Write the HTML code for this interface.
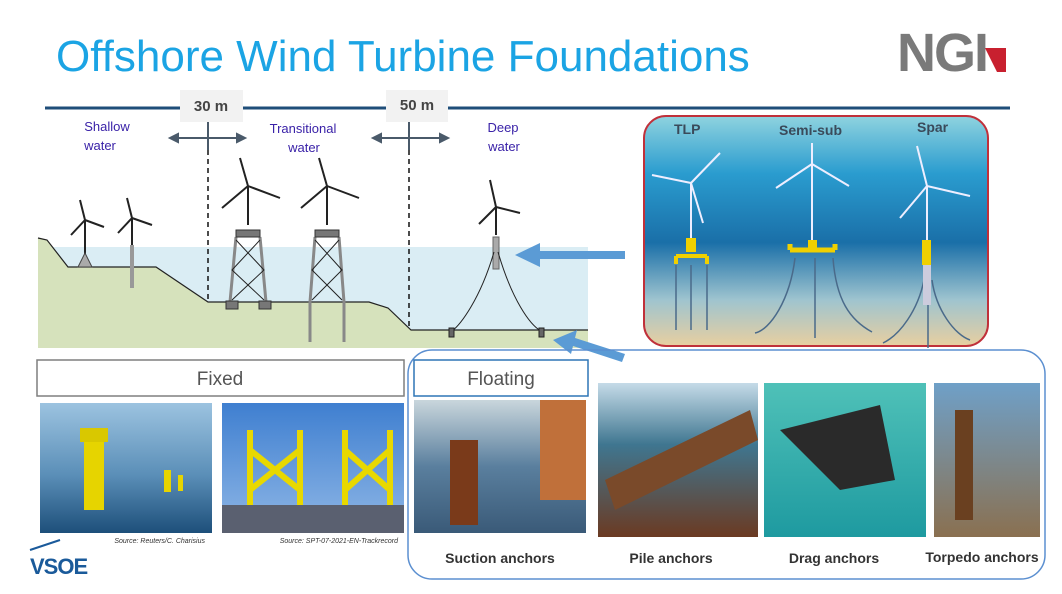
<!DOCTYPE html>
<html><head><meta charset="utf-8"><style>
body{margin:0;width:1062px;height:594px;overflow:hidden;background:#fff;font-family:"Liberation Sans",sans-serif}
svg{position:absolute;left:0;top:0}
</style></head><body>
<svg width="1062" height="594" viewBox="0 0 1062 594" xmlns="http://www.w3.org/2000/svg" font-family="Liberation Sans, sans-serif">
<defs>
<linearGradient id="sea" x1="0" y1="0" x2="0" y2="1">
<stop offset="0" stop-color="#8fd3df"/><stop offset="0.25" stop-color="#2a9ccf"/><stop offset="0.55" stop-color="#1a6fa8"/><stop offset="0.8" stop-color="#9fc4cf"/><stop offset="1" stop-color="#e8cfa0"/></linearGradient>
<linearGradient id="p1" x1="0" y1="0" x2="0" y2="1"><stop offset="0" stop-color="#9cc3e0"/><stop offset="0.55" stop-color="#5b8fb8"/><stop offset="1" stop-color="#1d4f7a"/></linearGradient>
<linearGradient id="p2" x1="0" y1="0" x2="0" y2="1"><stop offset="0" stop-color="#3f7fd0"/><stop offset="1" stop-color="#8fb7e6"/></linearGradient>
<linearGradient id="p3" x1="0" y1="0" x2="0" y2="1"><stop offset="0" stop-color="#c9d6dc"/><stop offset="0.5" stop-color="#5a7f9e"/><stop offset="1" stop-color="#3a5a78"/></linearGradient>
<linearGradient id="p4" x1="0" y1="0" x2="0" y2="1"><stop offset="0" stop-color="#c5dbe8"/><stop offset="0.4" stop-color="#3f7690"/><stop offset="1" stop-color="#6b3a22"/></linearGradient>
<linearGradient id="p5" x1="0" y1="0" x2="0" y2="1"><stop offset="0" stop-color="#4fc1b8"/><stop offset="1" stop-color="#1e9aa0"/></linearGradient>
<linearGradient id="p6" x1="0" y1="0" x2="0" y2="1"><stop offset="0" stop-color="#6fa0c8"/><stop offset="1" stop-color="#8a7050"/></linearGradient>
</defs>

<text x="56" y="71" font-size="44" fill="#1ba4e4">Offshore Wind Turbine Foundations</text>
<text x="897" y="71" font-size="54" font-weight="bold" fill="#7a7a7a" letter-spacing="-2">NGI</text>
<polygon points="985,48 1006,48 1006,72 997,72" fill="#c8202f"/>

<line x1="45" y1="108" x2="1010" y2="108" stroke="#1f4e79" stroke-width="3"/>
<rect x="180" y="90" width="63" height="32" fill="#f2f2f2"/>
<text x="211" y="111" font-size="15" font-weight="bold" fill="#444" text-anchor="middle">30 m</text>
<rect x="386" y="90" width="62" height="32" fill="#f2f2f2"/>
<text x="417" y="110" font-size="15" font-weight="bold" fill="#444" text-anchor="middle">50 m</text>

<rect x="50" y="247" width="538" height="90" fill="#daedf4"/>
<path d="M38,238 L47,240 L68,267 L156,267 L208,302 L369,302 L388,308 L411,330 L588,330 L588,348 L38,348 Z" fill="#d6e2bc"/>
<path d="M38,238 L47,240 L68,267 L156,267 L208,302 L369,302 L388,308 L411,330 L588,330" fill="none" stroke="#222" stroke-width="1.2"/>
<g stroke="#4a5a6a" stroke-width="2" fill="#4a5a6a">
<line x1="172" y1="138" x2="243" y2="138"/><polygon points="170,138 178,134 178,142"/><polygon points="245,138 237,134 237,142"/>
<line x1="375" y1="138" x2="446" y2="138"/><polygon points="373,138 381,134 381,142"/><polygon points="448,138 440,134 440,142"/>
<line x1="208" y1="122" x2="208" y2="150"/><line x1="409" y1="122" x2="409" y2="150"/>
</g>
<line x1="208" y1="150" x2="208" y2="302" stroke="#111" stroke-width="1.5" stroke-dasharray="5,4"/>
<line x1="409" y1="150" x2="409" y2="330" stroke="#111" stroke-width="1.5" stroke-dasharray="5,4"/>
<g font-size="13" fill="#3a22a8" text-anchor="middle">
<text x="107" y="131">Shallow</text><text x="100" y="150">water</text>
<text x="303" y="133">Transitional</text><text x="304" y="152">water</text>
<text x="503" y="132">Deep</text><text x="504" y="151">water</text>
</g>
<g stroke="#222" stroke-width="2" fill="none">
<line x1="85" y1="220" x2="85" y2="257"/><path d="M85,220 L80,200 M85,220 L104,227 M85,220 L71,235"/>
<line x1="132" y1="218" x2="132" y2="245"/><path d="M132,218 L127,198 M132,218 L152,225 M132,218 L118,233"/>
<line x1="248" y1="186" x2="248" y2="225"/><path d="M248,186 L240,158 M248,186 L280,198 M248,186 L222,208"/>
<line x1="327" y1="186" x2="327" y2="225"/><path d="M327,186 L319,158 M327,186 L359,198 M327,186 L301,208"/>
<line x1="496" y1="207" x2="496" y2="235"/><path d="M496,207 L490,180 M496,207 L520,213 M496,207 L479,224"/>
</g>
<polygon points="78,267 85,253 92,267" fill="#aaa" stroke="#444"/>
<line x1="132" y1="245" x2="132" y2="288" stroke="#999" stroke-width="4"/>
<g stroke="#888" stroke-width="3" fill="none">
<path d="M236,237 L230,302 M260,237 L266,302"/>
<path d="M315,237 L310,302 L310,342 M339,237 L344,302 L344,342"/>
</g>
<g stroke="#222" stroke-width="1" fill="none">
<path d="M236,240 L264,270 L232,300 M260,240 L232,270 L264,300"/>
<path d="M315,240 L342,270 L312,300 M339,240 L312,270 L342,300"/>
</g>
<rect x="236" y="230" width="24" height="7" fill="#777" stroke="#333"/>
<rect x="315" y="230" width="24" height="7" fill="#777" stroke="#333"/>
<rect x="226" y="301" width="12" height="8" fill="#777" stroke="#333"/>
<rect x="259" y="301" width="12" height="8" fill="#777" stroke="#333"/>
<rect x="493" y="237" width="6" height="32" fill="#aaa" stroke="#666"/>
<path d="M494,252 C480,300 460,325 452,331 M498,252 C512,300 530,325 541,331" stroke="#222" fill="none"/>
<rect x="449" y="328" width="5" height="9" fill="#666" stroke="#222"/>
<rect x="539" y="328" width="5" height="9" fill="#666" stroke="#222"/>

<rect x="644" y="116" width="344" height="230" rx="22" fill="url(#sea)" stroke="#c0303a" stroke-width="2"/>
<g font-size="14" font-weight="bold" fill="#3a4a5a">
<text x="674" y="134">TLP</text><text x="779" y="135">Semi-sub</text><text x="917" y="132">Spar</text>
</g>
<g stroke="#eef" stroke-width="2" fill="none">
<line x1="691" y1="183" x2="691" y2="240"/><path d="M691,183 L720,153 M691,183 L652,175 M691,183 L703,223"/>
<line x1="812" y1="164" x2="812" y2="240"/><path d="M812,164 L812,143 M812,164 L776,188 M812,164 L849,186"/>
<line x1="927" y1="186" x2="927" y2="260"/><path d="M927,186 L917,146 M927,186 L970,196 M927,186 L900,218"/>
</g>
<g stroke="#4a6a8a" stroke-width="1.5" fill="none">
<path d="M676,265 V330 M691,265 V330 M707,265 V330"/>
<path d="M795,258 C790,300 770,330 755,333 M815,258 V338 M833,258 C836,300 850,320 872,332"/>
<path d="M924,280 C918,310 900,335 883,343 M932,280 C936,310 955,335 970,340 M928,300 V348"/>
</g>
<rect x="686" y="238" width="10" height="14" fill="#f0d000"/>
<path d="M676,256 H707 M676,256 v8 M707,256 v8" stroke="#f0d000" stroke-width="4" fill="none"/>
<path d="M790,250 H835 M790,250 v-6 M835,250 v-6" stroke="#f0d000" stroke-width="5" fill="none"/>
<rect x="808" y="240" width="9" height="12" fill="#f0d000"/>
<rect x="922" y="240" width="9" height="25" fill="#f0d000"/>
<rect x="923" y="265" width="8" height="40" fill="#ccd"/>

<g fill="#5b9bd5">
<rect x="535" y="251" width="90" height="8"/><polygon points="515,255 540,243 540,267"/>
<polygon points="625,354 622,362 570,345 572,337" /><polygon points="553,340 577,330 571,354"/>
</g>

<rect x="408" y="350" width="637" height="229" rx="24" fill="none" stroke="#5b8fd0" stroke-width="1.5"/>
<rect x="37" y="360" width="367" height="36" fill="#fff" stroke="#7f7f7f" stroke-width="1.5"/>
<text x="220" y="385" font-size="19" fill="#555" text-anchor="middle">Fixed</text>
<rect x="414" y="360" width="174" height="36" fill="#fff" stroke="#2e75b6" stroke-width="1.5"/>
<text x="501" y="385" font-size="19" fill="#555" text-anchor="middle">Floating</text>

<rect x="40" y="403" width="172" height="130" fill="url(#p1)"/>
<rect x="84" y="440" width="20" height="70" fill="#e6d400"/><rect x="80" y="428" width="28" height="14" fill="#d9c800"/>
<rect x="164" y="470" width="7" height="22" fill="#e6d400"/><rect x="178" y="475" width="5" height="16" fill="#e6d400"/>
<text x="205" y="543" font-size="7" font-style="italic" fill="#333" text-anchor="end">Source: Reuters/C. Charisius</text>
<rect x="222" y="403" width="182" height="130" fill="url(#p2)"/>
<g stroke="#e8d800" stroke-width="6" fill="none">
<path d="M250,430 V510 M300,430 V510 M345,430 V510 M390,430 V510 M250,450 L300,490 M300,450 L250,490 M345,450 L390,490 M390,450 L345,490"/>
</g>
<rect x="222" y="505" width="182" height="28" fill="#5a6070"/>
<text x="398" y="543" font-size="7" font-style="italic" fill="#333" text-anchor="end">Source: SPT-07-2021-EN-Trackrecord</text>
<rect x="414" y="400" width="172" height="133" fill="url(#p3)"/>
<rect x="450" y="440" width="28" height="85" fill="#7a3a1a"/><rect x="540" y="400" width="46" height="100" fill="#c0703a"/>
<rect x="598" y="383" width="160" height="154" fill="url(#p4)"/>
<path d="M605,480 L750,410 L758,440 L615,510 Z" fill="#7a4a2a"/>
<rect x="764" y="383" width="162" height="154" fill="url(#p5)"/>
<path d="M780,430 L880,405 L895,480 L840,490 Z" fill="#2a2a2a"/>
<rect x="934" y="383" width="106" height="154" fill="url(#p6)"/>
<rect x="955" y="410" width="18" height="110" fill="#6a4020"/>

<g font-size="14" font-weight="bold" fill="#333" text-anchor="middle">
<text x="500" y="563">Suction anchors</text><text x="671" y="563">Pile anchors</text>
<text x="834" y="563">Drag anchors</text><text x="982" y="562">Torpedo anchors</text>
</g>
<text x="30" y="574" font-size="22" font-weight="bold" fill="#1a5a9a" letter-spacing="-1">VSOE</text>
<path d="M30,550 L60,540" stroke="#1a5a9a" stroke-width="2"/>
</svg>
</body></html>
